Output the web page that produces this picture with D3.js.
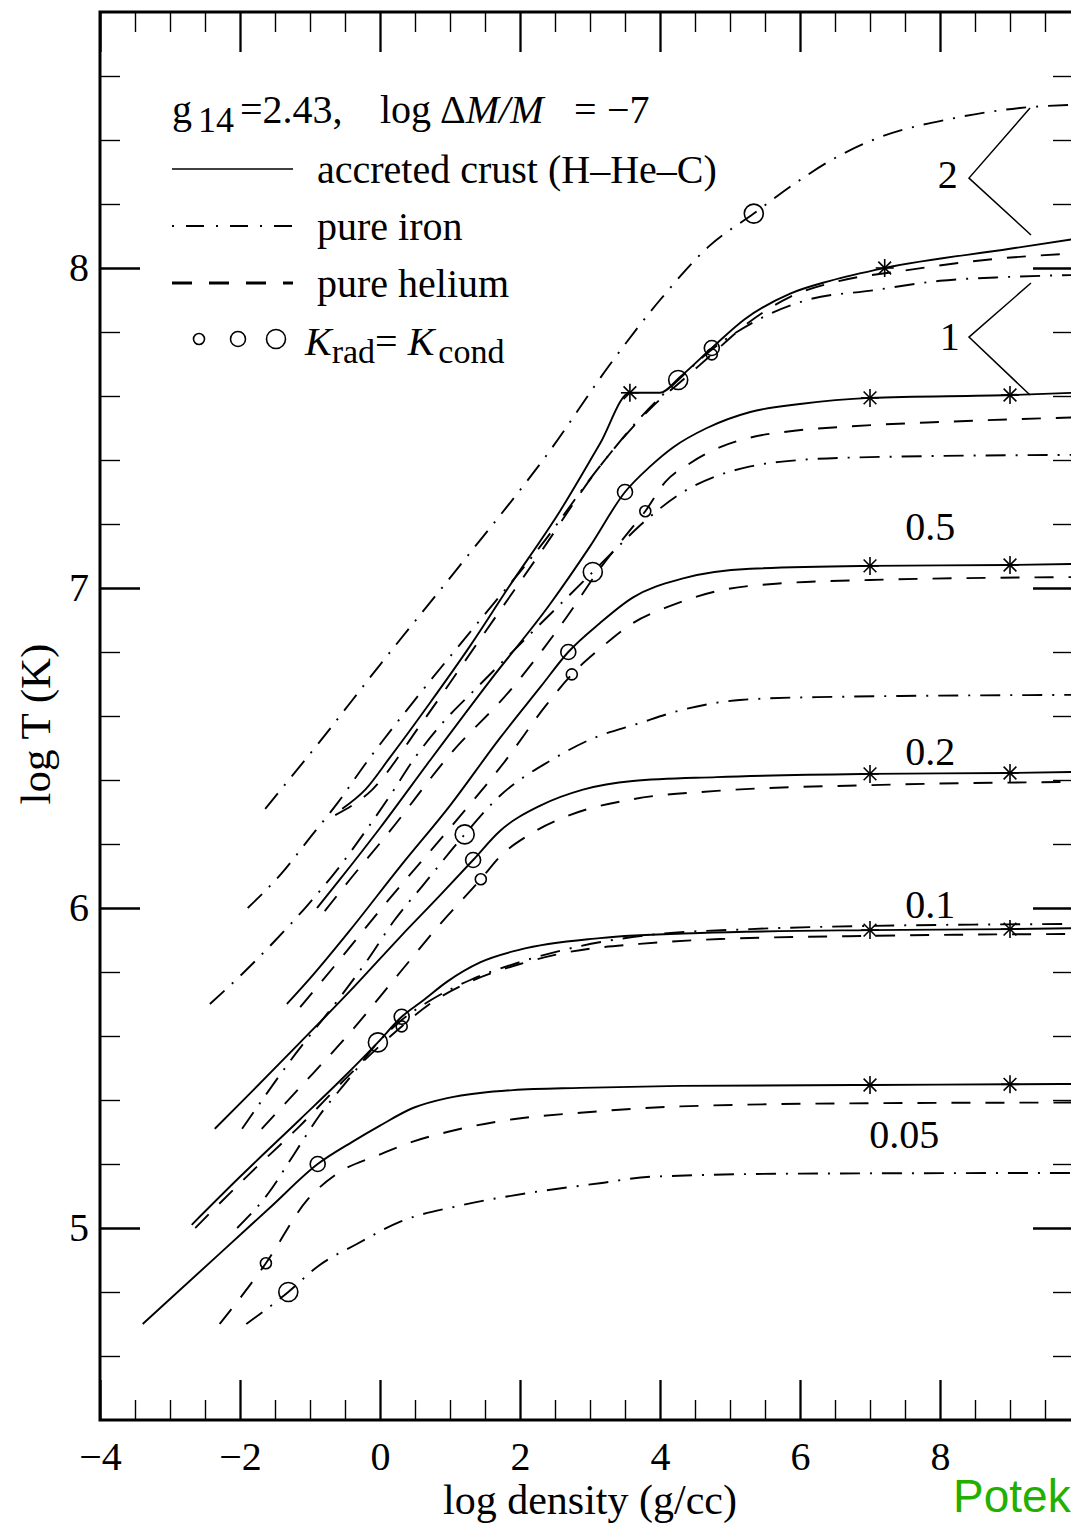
<!DOCTYPE html>
<html>
<head>
<meta charset="utf-8">
<script src="https://cdn.jsdelivr.net/npm/d3@7"></script>
<style>
  body { margin: 0; background: #fff; }
  svg { display: block; }
</style>
</head>
<body>
<svg class="canvas" width="1071" height="1523"></svg>
<script>
"use strict";

// flux labels, one per group of three curves (accreted, iron, helium)
const groupLabels = ["2", "1", "0.5", "0.2", "0.1", "0.05"];
const labelX = [8.11, 8.14, 7.86, 7.86, 7.86, 7.49];
const labelY = [8.25, 7.745, 7.15, 6.447, 5.969, 5.25];

// axis ticks
const xMajor = [-4, -2, 0, 2, 4, 6, 8];
const xMinor = [-3.5, -3, -2.5, -1.5, -1, -0.5, 0.5, 1, 1.5, 2.5, 3, 3.5, 4.5, 5, 5.5, 6.5, 7, 7.5, 8.5, 9, 9.5];
const yMajor = [5, 6, 7, 8];
const yMinor = [4.6, 4.8, 5.2, 5.4, 5.6, 5.8, 6.2, 6.4, 6.6, 6.8, 7.2, 7.4, 7.6, 7.8, 8.2, 8.4, 8.6];

// accreted crust (H-He-C), [log rho, log T]
const acc2 = [[-0.54, 6.31], [-0.21, 6.37], [0.14, 6.47], [0.71, 6.64], [1.29, 6.82], [1.83, 7.0], [2.57, 7.24], [3.14, 7.45], [3.57, 7.61], [4.0, 7.61], [4.29, 7.66], [4.74, 7.75], [5.21, 7.84], [5.86, 7.92], [6.43, 7.96], [7.21, 8.0], [9.0, 8.06], [9.9, 8.09]];
const acc1 = [[-0.9, 6.0], [-0.57, 6.09], [0, 6.25], [0.71, 6.46], [1.57, 6.71], [2.43, 6.95], [3.0, 7.13], [3.5, 7.3], [3.86, 7.38], [4.19, 7.44], [4.67, 7.5], [5.29, 7.55], [6.0, 7.575], [7.0, 7.594], [9.0, 7.603], [9.9, 7.61]];
const acc05 = [[-1.33, 5.7], [-1.0, 5.78], [-0.43, 5.93], [0.29, 6.13], [1.0, 6.32], [1.71, 6.53], [2.29, 6.69], [2.69, 6.8], [3.14, 6.89], [3.61, 6.97], [4.33, 7.03], [5.29, 7.06], [7.0, 7.069], [9.0, 7.072], [9.9, 7.075]];
const acc02 = [[-2.36, 5.31], [-1.86, 5.42], [-1.14, 5.58], [-0.43, 5.74], [0.29, 5.91], [0.86, 6.04], [1.33, 6.15], [1.71, 6.24], [2.29, 6.32], [2.9, 6.37], [3.61, 6.397], [4.81, 6.409], [7.0, 6.419], [9.0, 6.422], [9.9, 6.425]];
const acc01 = [[-2.69, 5.01], [-2.0, 5.16], [-1.14, 5.34], [-0.57, 5.46], [-0.03, 5.58], [0.31, 5.66], [0.61, 5.71], [0.96, 5.77], [1.43, 5.83], [2.0, 5.87], [3.14, 5.906], [4.57, 5.922], [7.0, 5.931], [9.0, 5.934], [9.9, 5.937]];
const acc005 = [[-3.39, 4.7], [-3.07, 4.764], [-2.29, 4.92], [-1.57, 5.064], [-0.89, 5.2], [-0.39, 5.27], [0, 5.32], [0.47, 5.375], [0.96, 5.406], [1.43, 5.422], [1.9, 5.431], [2.86, 5.438], [4.29, 5.444], [7.0, 5.447], [9.0, 5.449], [9.9, 5.45]];

// pure iron
const fe2 = [[-1.64, 6.31], [-0.86, 6.52], [0, 6.76], [1.14, 7.07], [2.43, 7.43], [3.29, 7.7], [4.0, 7.9], [4.71, 8.07], [5.34, 8.17], [5.9, 8.26], [6.47, 8.34], [7.04, 8.4], [8.24, 8.47], [9.14, 8.5], [9.9, 8.51]];
const fe1 = [[-1.89, 6.0], [-1.4, 6.11], [-1.0, 6.22], [-0.6, 6.33], [-0.21, 6.45], [0.57, 6.67], [1.43, 6.9], [2.29, 7.13], [3.14, 7.38], [3.71, 7.53], [4.26, 7.65], [4.71, 7.74], [5.33, 7.83], [6.1, 7.9], [7.04, 7.93], [8.0, 7.96], [8.96, 7.972], [9.9, 7.978]];
const fe05 = [[-2.43, 5.7], [-1.94, 5.8], [-1.49, 5.9], [-1.03, 6.01], [-0.61, 6.12], [-0.24, 6.23], [0.14, 6.35], [0.5, 6.47], [0.9, 6.58], [1.39, 6.69], [2.21, 6.87], [3.04, 7.05], [3.36, 7.12], [3.79, 7.21], [4.33, 7.3], [4.81, 7.35], [5.29, 7.38], [6.0, 7.4], [7.0, 7.409], [9.9, 7.416]];
const fe02 = [[-1.97, 5.31], [-1.29, 5.52], [-0.54, 5.73], [-0.17, 5.84], [0.2, 5.96], [0.61, 6.07], [1.21, 6.23], [1.71, 6.35], [2.43, 6.46], [3.04, 6.53], [3.67, 6.575], [4.33, 6.62], [5.14, 6.65], [6.24, 6.659], [9.9, 6.666]];
const fe01 = [[-2.04, 5.0], [-1.59, 5.11], [-1.23, 5.23], [-0.87, 5.35], [-0.43, 5.47], [-0.03, 5.58], [0.31, 5.65], [0.71, 5.71], [1.29, 5.775], [2.0, 5.831], [2.86, 5.881], [3.86, 5.916], [5.29, 5.934], [7.0, 5.944], [9.9, 5.95]];
const fe005 = [[-1.91, 4.7], [-1.31, 4.8], [-0.89, 4.88], [-0.33, 4.95], [0.29, 5.02], [1.14, 5.07], [2.14, 5.11], [3.14, 5.14], [3.86, 5.16], [6.0, 5.17], [9.9, 5.172]];

// pure helium
const he2 = [[-0.64, 6.29], [-0.11, 6.37], [0.57, 6.57], [1.43, 6.84], [2.29, 7.11], [3.14, 7.38], [3.86, 7.56], [4.43, 7.67], [4.74, 7.73], [5.21, 7.82], [5.86, 7.91], [6.57, 7.96], [7.43, 7.99], [8.86, 8.03], [9.9, 8.045]];
const he1 = [[-0.79, 5.99], [-0.5, 6.07], [0.14, 6.24], [1.0, 6.48], [1.86, 6.68], [2.67, 6.91], [3.14, 7.06], [3.57, 7.18], [3.79, 7.24], [4.07, 7.33], [4.43, 7.39], [4.86, 7.44], [5.29, 7.47], [5.86, 7.49], [6.71, 7.505], [8.14, 7.52], [9.9, 7.533]];
const he05 = [[-1.14, 5.69], [-0.57, 5.84], [0.14, 6.03], [1.0, 6.25], [1.79, 6.46], [2.36, 6.63], [2.74, 6.73], [3.14, 6.81], [3.61, 6.89], [4.1, 6.94], [4.81, 6.99], [5.76, 7.015], [7.0, 7.025], [9.9, 7.034]];
const he02 = [[-1.69, 5.31], [-1.14, 5.44], [-0.43, 5.61], [0.29, 5.8], [0.86, 5.95], [1.44, 6.09], [1.71, 6.16], [2.14, 6.23], [2.71, 6.29], [3.61, 6.34], [4.81, 6.366], [7.0, 6.384], [9.9, 6.394]];
const he01 = [[-2.64, 5.0], [-1.86, 5.17], [-1.14, 5.32], [-0.43, 5.48], [0.31, 5.63], [0.71, 5.7], [1.29, 5.77], [2.0, 5.825], [2.71, 5.863], [3.71, 5.888], [4.86, 5.903], [7.0, 5.913], [9.9, 5.919]];
const he005 = [[-2.29, 4.7], [-1.63, 4.89], [-1.03, 5.09], [-0.61, 5.17], [0, 5.23], [0.47, 5.27], [0.96, 5.3], [1.9, 5.34], [2.86, 5.36], [4.29, 5.38], [7.0, 5.39], [9.9, 5.392]];

// where K_rad = K_cond (log rho) on each curve
const accCircleX = [4.74, 3.5, 2.69, 1.33, 0.31, -0.89];
const feCircleX = [5.34, 4.26, 3.04, 1.21, -0.03, -1.31];
const heCircleX = [4.74, 3.79, 2.74, 1.44, 0.31, -1.63];
// asterisks on the accreted curves (log rho)
const starX = [[3.57, 7.21], [7, 9], [7, 9], [7, 9], [7, 9], [7, 9]];

// brackets joining labels "2" and "1" to their curves: [upper end, apex, lower end]
const bracket2 = [[9.286, 8.5], [8.414, 8.281], [9.3, 8.103]];
const bracket1 = [[9.3, 7.953], [8.414, 7.784], [9.286, 7.603]];

const accCurves = [acc2, acc1, acc05, acc02, acc01, acc005];
const feCurves = [fe2, fe1, fe05, fe02, fe01, fe005];
const heCurves = [he2, he1, he05, he02, he01, he005];

const SERIF = "'Liberation Serif', 'Times New Roman', Times, serif";
const DASHED = "19,15";
const DASHDOT = "20,10,2,10";

function yAt(curve, xv) {
  for (let i = 1; i < curve.length; i++) {
    const a = curve[i - 1], b = curve[i];
    if (xv <= b[0]) {
      const t = (xv - a[0]) / (b[0] - a[0]);
      return a[1] + t * (b[1] - a[1]);
    }
  }
  return curve[curve.length - 1][1];
}

function render() {
  const svg = d3.select(".canvas");
  const x = d3.scaleLinear().domain([-4, 9.9]).range([100, 1073]);
  const y = d3.scaleLinear().domain([4.4, 8.8]).range([1420, 12]);

  svg.append("defs").append("clipPath").attr("id", "plot")
    .append("rect")
    .attr("x", x.range()[0]).attr("y", y.range()[1])
    .attr("width", x.range()[1] - x.range()[0])
    .attr("height", y.range()[0] - y.range()[1]);

  // axes: major and minor ticks on all four sides, pointing inward
  function tidy(g, width) {
    g.select(".domain").remove();
    g.selectAll("line").attr("stroke", "#000").attr("stroke-width", width);
    g.selectAll("text").attr("font-family", SERIF).attr("font-size", 40).attr("fill", "#000");
  }
  const bottom = y.range()[0], top = y.range()[1];
  const left = x.range()[0], right = x.range()[1];

  svg.append("g").attr("transform", `translate(0,${bottom})`)
    .call(d3.axisBottom(x).tickValues(xMajor).tickSizeInner(-40).tickSizeOuter(0).tickPadding(22).tickFormat(d3.format("d")))
    .call(g => tidy(g, 2.3));
  svg.append("g").attr("transform", `translate(0,${bottom})`)
    .call(d3.axisBottom(x).tickValues(xMinor).tickSizeInner(-20).tickSizeOuter(0).tickFormat(""))
    .call(g => tidy(g, 1.4));
  svg.append("g").attr("transform", `translate(0,${top})`)
    .call(d3.axisTop(x).tickValues(xMajor).tickSizeInner(-40).tickSizeOuter(0).tickFormat(""))
    .call(g => tidy(g, 2.3));
  svg.append("g").attr("transform", `translate(0,${top})`)
    .call(d3.axisTop(x).tickValues(xMinor).tickSizeInner(-20).tickSizeOuter(0).tickFormat(""))
    .call(g => tidy(g, 1.4));
  svg.append("g").attr("transform", `translate(${left},0)`)
    .call(d3.axisLeft(y).tickValues(yMajor).tickSizeInner(-40).tickSizeOuter(0).tickPadding(11).tickFormat(d3.format("d")))
    .call(g => tidy(g, 2.3));
  svg.append("g").attr("transform", `translate(${left},0)`)
    .call(d3.axisLeft(y).tickValues(yMinor).tickSizeInner(-20).tickSizeOuter(0).tickFormat(""))
    .call(g => tidy(g, 1.4));
  svg.append("g").attr("transform", `translate(${right},0)`)
    .call(d3.axisRight(y).tickValues(yMajor).tickSizeInner(-40).tickSizeOuter(0).tickFormat(""))
    .call(g => tidy(g, 2.3));
  svg.append("g").attr("transform", `translate(${right},0)`)
    .call(d3.axisRight(y).tickValues(yMinor).tickSizeInner(-20).tickSizeOuter(0).tickFormat(""))
    .call(g => tidy(g, 1.4));

  svg.append("rect")
    .attr("x", left).attr("y", top)
    .attr("width", right - left).attr("height", bottom - top)
    .attr("fill", "none").attr("stroke", "#000").attr("stroke-width", 3);

  // axis titles
  svg.append("text")
    .attr("x", x(3)).attr("y", 1514)
    .attr("text-anchor", "middle")
    .attr("font-family", SERIF).attr("font-size", 42)
    .text("log density (g/cc)");
  svg.append("text")
    .attr("transform", "translate(50,724) rotate(-90)")
    .attr("text-anchor", "middle")
    .attr("font-family", SERIF).attr("font-size", 43)
    .text("log T (K)");

  // curves
  const line = d3.line().x(d => x(d[0])).y(d => y(d[1])).curve(d3.curveMonotoneX);
  const plot = svg.append("g").attr("clip-path", "url(#plot)");

  function drawCurves(curves, dash) {
    plot.append("g").selectAll("path")
      .data(curves)
      .join("path")
      .attr("d", line)
      .attr("fill", "none")
      .attr("stroke", "#000")
      .attr("stroke-width", 1.9)
      .attr("stroke-dasharray", dash);
  }
  drawCurves(feCurves, DASHDOT);
  drawCurves(heCurves, DASHED);
  drawCurves(accCurves, null);

  // K_rad = K_cond circles
  function drawCircles(curves, xs, r) {
    plot.append("g").selectAll("circle")
      .data(xs.map((xv, i) => [xv, yAt(curves[i], xv)]))
      .join("circle")
      .attr("cx", d => x(d[0]))
      .attr("cy", d => y(d[1]))
      .attr("r", r)
      .attr("fill", "none")
      .attr("stroke", "#000")
      .attr("stroke-width", 1.6);
  }
  drawCircles(heCurves, heCircleX, 5.5);
  drawCircles(accCurves, accCircleX, 7.5);
  drawCircles(feCurves, feCircleX, 9.5);

  // asterisks on the accreted curves
  const stars = [];
  starX.forEach((xs, i) => xs.forEach(xv => stars.push([xv, yAt(accCurves[i], xv)])));
  const arm = 9;
  const star = plot.append("g").selectAll("g")
    .data(stars)
    .join("g")
    .attr("transform", d => `translate(${x(d[0])},${y(d[1])})`);
  [0, 45, 90, 135].forEach(a => {
    const c = Math.cos(a * Math.PI / 180) * arm, s = Math.sin(a * Math.PI / 180) * arm;
    star.append("line")
      .attr("x1", -c).attr("y1", -s).attr("x2", c).attr("y2", s)
      .attr("stroke", "#000").attr("stroke-width", 1.6);
  });

  // group labels and brackets
  svg.append("g").selectAll("text")
    .data(groupLabels)
    .join("text")
    .attr("x", (d, i) => x(labelX[i]))
    .attr("y", (d, i) => y(labelY[i]))
    .attr("text-anchor", "middle")
    .attr("font-family", SERIF).attr("font-size", 40)
    .text(d => d);
  const bline = d3.line().x(d => x(d[0])).y(d => y(d[1]));
  svg.append("g").selectAll("path")
    .data([bracket2, bracket1])
    .join("path")
    .attr("d", bline)
    .attr("fill", "none").attr("stroke", "#000").attr("stroke-width", 1.5);

  // legend
  const lg = svg.append("g").attr("font-family", SERIF).attr("font-size", 40);
  const title = lg.append("text").attr("x", 172).attr("y", 123);
  title.append("tspan").text("g");
  title.append("tspan").attr("x", 198).attr("dy", 9).attr("font-size", 36).text("14");
  title.append("tspan").attr("x", 240).attr("dy", -9).text("=2.43,");
  title.append("tspan").attr("x", 380).text("log");
  title.append("tspan").attr("x", 440).text("Δ");
  title.append("tspan").attr("font-style", "italic").text("M/M");
  title.append("tspan").attr("x", 574).text("=");
  title.append("tspan").attr("x", 607).text("−7");

  const rows = [
    { y: 169, dash: null, w: 1.6, label: "accreted crust (H–He–C)" },
    { y: 226, dash: "2,12,18,12", w: 1.9, label: "pure iron" },
    { y: 283, dash: "20,17", w: 3, label: "pure helium" },
  ];
  rows.forEach(r => {
    lg.append("line")
      .attr("x1", 172).attr("x2", 293).attr("y1", r.y).attr("y2", r.y)
      .attr("stroke", "#000").attr("stroke-width", r.w)
      .attr("stroke-dasharray", r.dash);
    lg.append("text").attr("x", 317).attr("y", r.y + 14).text(r.label);
  });
  [[199, 5.5], [238, 7.5], [276, 9.5]].forEach(c => {
    lg.append("circle").attr("cx", c[0]).attr("cy", 339).attr("r", c[1])
      .attr("fill", "none").attr("stroke", "#000").attr("stroke-width", 1.6);
  });
  const kt = lg.append("text").attr("x", 305).attr("y", 355);
  kt.append("tspan").attr("font-style", "italic").text("K");
  kt.append("tspan").attr("dy", 8).attr("font-size", 34).text("rad");
  kt.append("tspan").attr("dy", -8).text("= ");
  kt.append("tspan").attr("font-style", "italic").text("K");
  kt.append("tspan").attr("dx", 4).attr("dy", 8).attr("font-size", 34).text("cond");

  // watermark, cut by the right edge as in the source image
  svg.append("text")
    .attr("x", 953).attr("y", 1512)
    .attr("font-family", "'Liberation Sans', Arial, sans-serif")
    .attr("font-size", 46)
    .attr("fill", "#22b000")
    .text("Potekhin");
}

window.onload = render;
</script>
</body>
</html>
